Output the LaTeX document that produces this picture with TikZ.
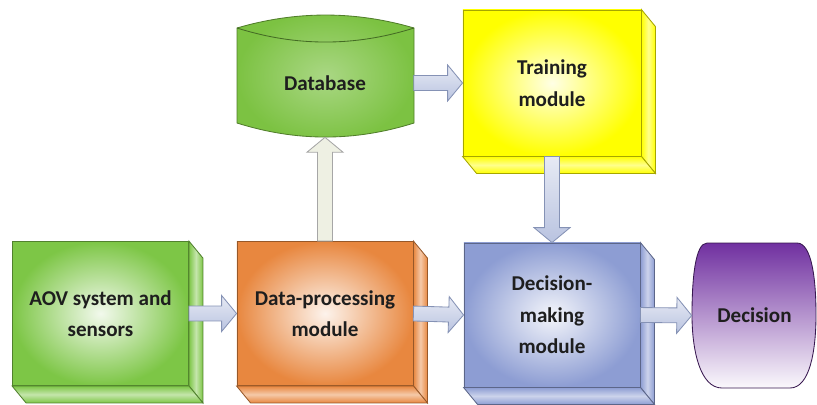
\documentclass[tikz,border=0pt]{standalone}
\usepackage{fontspec}
\setmainfont{Carlito}
\usepackage{tikz}
\usetikzlibrary{calc}

\definecolor{aovgreen}{HTML}{7DC646}
\definecolor{dbgreen}{HTML}{7CC242}
\definecolor{procorange}{HTML}{E8873F}
\definecolor{dmblue}{HTML}{8D9DD3}
\definecolor{tryellow}{HTML}{FFFF00}
\definecolor{decpurple}{HTML}{7030A0}
\definecolor{arrowblue}{HTML}{B9C3E0}
\definecolor{arrowedge}{HTML}{8592B5}
\definecolor{arrowbeige}{HTML}{EEF0E3}
\definecolor{textgray}{HTML}{1E1E1E}

\tikzset{
    boxtext/.style={text=textgray, align=center, font=\fontsize{15}{22.5}\selectfont\bfseries},
    box/.style={boxtext, draw=#1!65!black, line width=0.6pt, inner color=#1!10!white, outer color=#1,
        minimum width=4.4cm, minimum height=3.6cm},
    fat/.style={line width=0.6pt, to path={
        ($(\tikztostart)!5.3pt!90:(\tikztotarget)$) --
        ($(\tikztotarget)!10.6pt!(\tikztostart)!5.3pt!-90:(\tikztostart)$) --
        ($(\tikztotarget)!10.6pt!(\tikztostart)!12.8pt!-90:(\tikztostart)$) --
        (\tikztotarget) --
        ($(\tikztotarget)!10.6pt!(\tikztostart)!12.8pt!90:(\tikztostart)$) --
        ($(\tikztotarget)!10.6pt!(\tikztostart)!5.3pt!90:(\tikztostart)$) --
        ($(\tikztostart)!5.3pt!-90:(\tikztotarget)$) -- cycle}},
    bluearrow/.style={fat, draw=arrowedge, top color=arrowblue!35!white, bottom color=arrowblue},
}

\begin{document}
\begin{tikzpicture}[x=0.025cm, y=-0.025cm]
        \useasboundingbox (0,0) rectangle (817,404);

        % Front faces of the blocks
        \node[box=aovgreen] (aov) at (100.5,313.5) {AOV system and\\sensors};
        \node[box=procorange] (proc) at (325,313.5) {Data-processing\\module};
        \node[box=dmblue] (dm) at (552,315) {Decision-\\making\\module};
        \node[box=tryellow, minimum width=4.45cm, minimum height=3.65cm] (tr) at (552,83) {Training\\module};

        % Depth faces (side and bottom)
        \foreach \n/\c in {aov/aovgreen, proc/procorange, dm/dmblue, tr/tryellow} {
            \draw[draw=\c!65!black, line width=0.6pt, left color=\c, right color=\c, middle color=\c!45!white]
                (\n.north east) -- ++(14,17) -- ($(\n.south east)+(14,17)$) -- (\n.south east) -- cycle;
            \draw[draw=\c!65!black, line width=0.6pt, top color=\c, bottom color=\c, middle color=\c!45!white]
                (\n.south west) -- (\n.south east) -- ++(14,17) -- ($(\n.south west)+(14,17)$) -- cycle;
        }

        % Database drum
        \draw[draw=dbgreen!65!black, line width=0.6pt, inner color=dbgreen!65!white, outer color=dbgreen]
            (237,28) .. controls (296,10.7) and (355,10.7) .. (414,28) -- (414,123)
            .. controls (355,141.7) and (296,141.7) .. (237,123) -- cycle;
        \draw[dbgreen!55!black, line width=0.6pt] (237,28) .. controls (296,46.7) and (355,46.7) .. (414,28);
        \node[boxtext, minimum width=4.425cm, minimum height=2.7cm] (db) at (325,83) {Database};

        % Decision terminal
        \draw[draw=decpurple!50!black, line width=0.6pt, top color=decpurple, bottom color=decpurple!3!white]
            (707,243) -- (797,243) .. controls (812,243) and (816,280) .. (816,315)
            .. controls (816,350) and (810,388) .. (790,388) -- (722,388)
            .. controls (700,388) and (692,350) .. (692,315)
            .. controls (692,280) and (695,243) .. (707,243) -- cycle;
        \node[boxtext, minimum width=3.125cm, minimum height=3.625cm] (dec) at (754.5,315.5) {Decision};

        % Block arrows
        \draw[bluearrow] (aov.east) to (proc.west);
        \draw[bluearrow] (proc.east) to (dm.west);
        \draw[bluearrow] (dm.east) to (dec.west);
        \draw[bluearrow] (db.east) to (tr.west);
        \draw[bluearrow] (tr.south) to (dm.north);
        \draw[fat, draw=gray!70, fill=arrowbeige] (proc.north) to (db.south);
    \end{tikzpicture}
\end{document}
